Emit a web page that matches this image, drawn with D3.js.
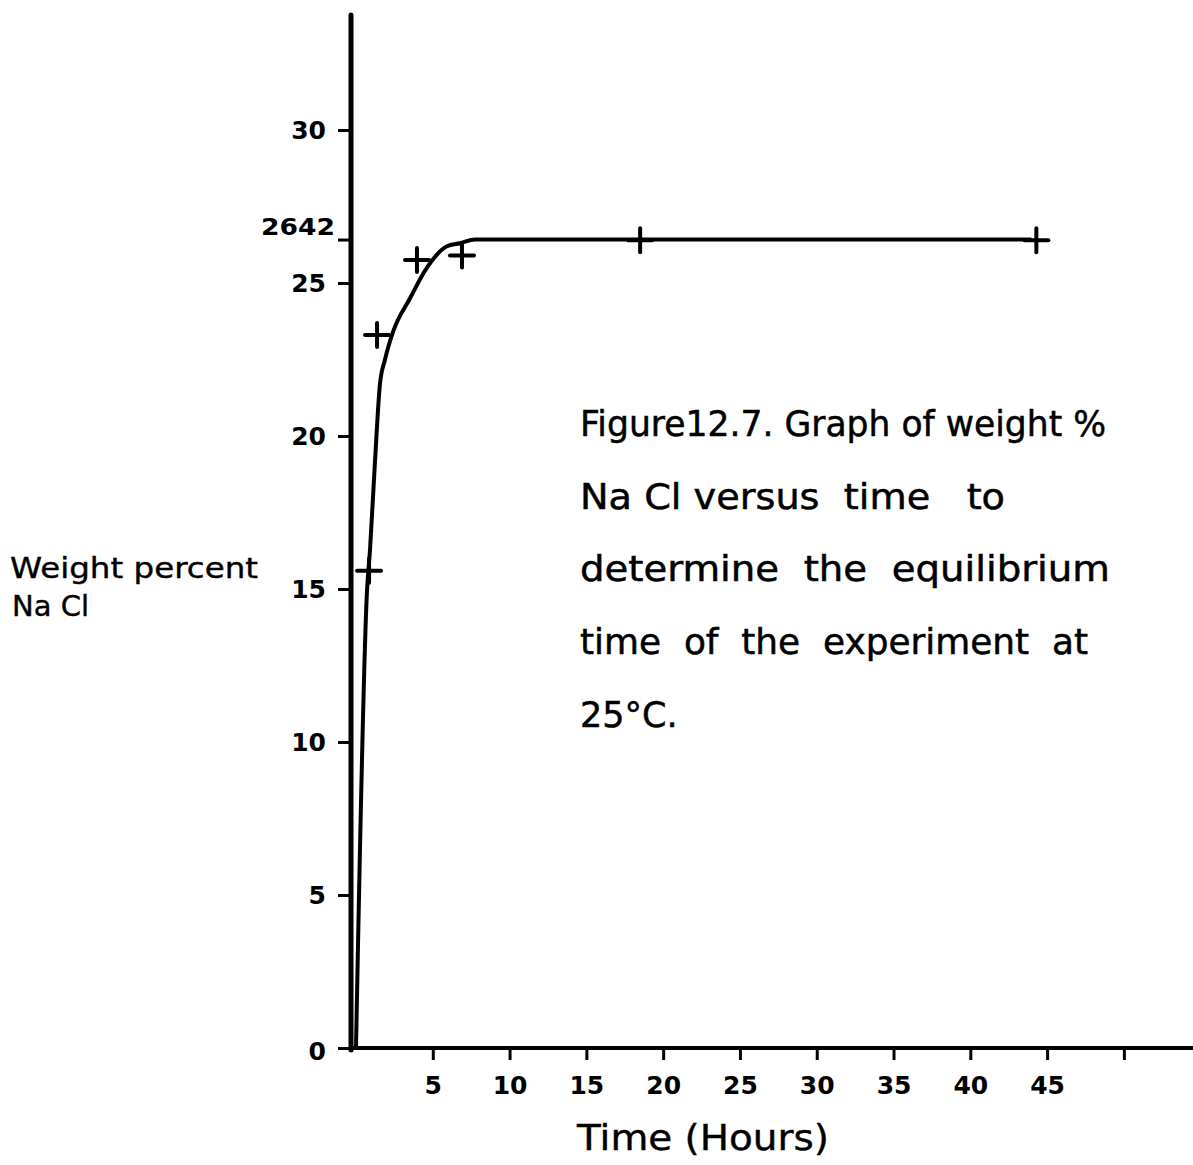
<!DOCTYPE html>
<html>
<head>
<meta charset="utf-8">
<script src="https://cdn.jsdelivr.net/npm/d3@7"></script>
<style>
  html, body { margin: 0; padding: 0; background: #fff; }
  svg { display: block; }
  text { fill: #000; }
</style>
</head>
<body>
<svg id="chart" width="1193" height="1165"></svg>
<script>
// Measured samples: time (hours) and weight percent NaCl
const sampleTime   = [0.85, 1.37, 3.97, 6.9, 18.5, 44.3];
const sampleWeight = [15.6, 23.3, 25.75, 25.9, 26.4, 26.4];

// Hand-fitted equilibrium curve through the samples
const curveTime   = [0, 0.72, 0.91, 1.24, 1.56, 1.89, 2.41, 3.52, 4.62, 5.92, 6.77, 7.75, 43.9];
const curveWeight = [0, 14.97, 16.27, 19.2, 21.7, 22.5, 23.4, 24.5, 25.5, 26.2, 26.3, 26.42, 26.42];

// Axis ticks
const xTicks = [5, 10, 15, 20, 25, 30, 35, 40, 45, 50];
const xTickLabels = ["5", "10", "15", "20", "25", "30", "35", "40", "45", ""];
const yTicks = [0, 5, 10, 15, 20, 25, 26.42, 30];
const yTickLabels = ["0", "5", "10", "15", "20", "25", "2642", "30"];

const captionLines = [
  "Figure12.7. Graph of weight %",
  "Na Cl versus  time   to",
  "determine  the  equilibrium",
  "time  of  the  experiment  at",
  "25°C."
];
const captionWidths = [526, 425, 530, 508, 0];

const svg = d3.select("#chart");
const font = "'DejaVu Sans', 'Liberation Sans', sans-serif";

const x = d3.scaleLinear().domain([0, 54.5]).range([356, 1193]);
const y = d3.scaleLinear().domain([0, 30]).range([1048, 130]);

// y axis (ticks point left)
const yAxis = d3.axisLeft(y)
  .tickValues(yTicks)
  .tickSize(13)
  .tickPadding(12)
  .tickFormat((d, i) => yTickLabels[i]);
const gy = svg.append("g").attr("transform", "translate(351,0)").call(yAxis);
gy.select(".domain").remove();
gy.selectAll(".tick line").attr("stroke", "#000").attr("stroke-width", 3);
gy.selectAll(".tick text")
  .attr("font-family", font).attr("font-size", 25).attr("font-weight", "bold")
  .attr("fill", "#000");
gy.selectAll(".tick").filter(d => d === 26.42).select("text")
  .attr("font-size", 23).attr("dx", "9").attr("dy", "-0.2em")
  .attr("textLength", 74).attr("lengthAdjust", "spacingAndGlyphs");
gy.selectAll(".tick").filter(d => d === 0).select("text")
  .attr("dx", "0").attr("dy", "0.45em");
gy.append("line")
  .attr("x1", 0).attr("x2", 0).attr("y1", 15).attr("y2", y(0) + 2)
  .attr("stroke", "#000").attr("stroke-width", 5).attr("stroke-linecap", "round");

// x axis (ticks point down)
const xAxis = d3.axisBottom(x)
  .tickValues(xTicks)
  .tickSize(12)
  .tickPadding(16)
  .tickFormat((d, i) => xTickLabels[i]);
const gx = svg.append("g").attr("transform", `translate(0,${y(0)})`).call(xAxis);
gx.select(".domain").remove();
gx.selectAll(".tick line").attr("stroke", "#000").attr("stroke-width", 3);
gx.selectAll(".tick text")
  .attr("font-family", font).attr("font-size", 25).attr("font-weight", "bold")
  .attr("fill", "#000");
gx.append("line")
  .attr("x1", 351).attr("x2", 1193).attr("y1", 0).attr("y2", 0)
  .attr("stroke", "#000").attr("stroke-width", 4);

// Curve
const line = d3.line()
  .x((d, i) => x(curveTime[i]))
  .y((d, i) => y(curveWeight[i]))
  .curve(d3.curveMonotoneX);
svg.append("path")
  .datum(curveTime)
  .attr("d", line)
  .attr("fill", "none")
  .attr("stroke", "#000")
  .attr("stroke-width", 4)
  .attr("stroke-linejoin", "round")
  .attr("stroke-linecap", "round");

// Sample crosses
const arm = 12;
const crosses = svg.append("g").attr("stroke", "#000").attr("stroke-width", 4).attr("stroke-linecap", "round");
sampleTime.forEach((t, i) => {
  const cx = x(t), cy = y(sampleWeight[i]);
  crosses.append("line").attr("x1", cx - arm).attr("x2", cx + arm).attr("y1", cy).attr("y2", cy);
  crosses.append("line").attr("x1", cx).attr("x2", cx).attr("y1", cy - arm).attr("y2", cy + arm);
});

// Axis titles
const yTitle = svg.append("text")
  .attr("font-family", font).attr("font-size", 29)
  .attr("stroke", "#000").attr("stroke-width", 0.4);
yTitle.append("tspan").attr("x", 10).attr("y", 578).text("Weight percent")
  .attr("textLength", 248).attr("lengthAdjust", "spacingAndGlyphs");
yTitle.append("tspan").attr("x", 12).attr("y", 616).text("Na Cl");

svg.append("text")
  .attr("x", 577).attr("y", 1150)
  .attr("font-family", font).attr("font-size", 35)
  .attr("stroke", "#000").attr("stroke-width", 0.4)
  .attr("textLength", 252).attr("lengthAdjust", "spacingAndGlyphs")
  .text("Time  (Hours)");

// Caption
const cap = svg.append("g").attr("font-family", font).attr("font-size", 35)
  .attr("stroke", "#000").attr("stroke-width", 0.5);
captionLines.forEach((s, i) => {
  const t = cap.append("text")
    .attr("x", 580).attr("y", 436 + i * 72.7)
    .attr("xml:space", "preserve")
    .text(s);
  if (captionWidths[i]) t.attr("textLength", captionWidths[i]).attr("lengthAdjust", "spacingAndGlyphs");
});
</script>
</body>
</html>
